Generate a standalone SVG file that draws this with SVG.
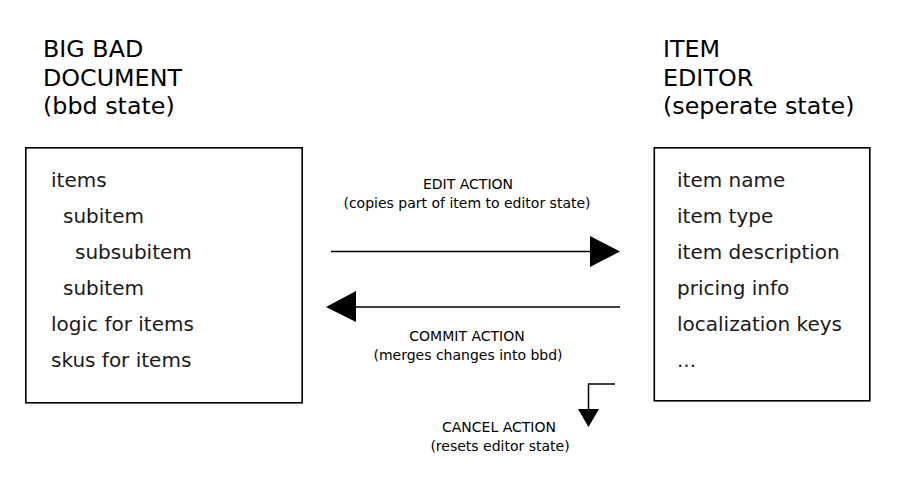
<svg xmlns="http://www.w3.org/2000/svg" width="897" height="487" viewBox="0 0 897 487">
<style>
.bg{fill:#fff}
.box{fill:#fff;stroke:#000;stroke-width:1.6}
.hdr{font-family:"DejaVu Sans","Liberation Sans",sans-serif;font-size:23.8px;fill:#000}
.itm{font-family:"DejaVu Sans","Liberation Sans",sans-serif;font-size:20px;fill:#1a1a1a}
.lbl{font-family:"DejaVu Sans","Liberation Sans",sans-serif;font-size:14px;fill:#000;text-anchor:middle}
.ln{fill:none;stroke:#000;stroke-width:1.5}
.ah{fill:#000}
</style>
<rect class="bg" width="897" height="487"/>
<g id="node-bbd">
<text class="hdr" x="43" y="57">BIG BAD</text>
<text class="hdr" x="43" y="86">DOCUMENT</text>
<text class="hdr" x="43" y="114">(bbd state)</text>
<rect class="box" x="25.8" y="147.8" width="276.4" height="255"/>
<text class="itm" x="51" y="187">items</text>
<text class="itm" x="63" y="223">subitem</text>
<text class="itm" x="75" y="259">subsubitem</text>
<text class="itm" x="63" y="295">subitem</text>
<text class="itm" x="51" y="331">logic for items</text>
<text class="itm" x="51" y="367">skus for items</text>
</g>
<g id="node-editor">
<text class="hdr" x="663" y="57">ITEM</text>
<text class="hdr" x="663" y="86">EDITOR</text>
<text class="hdr" x="663" y="114">(seperate state)</text>
<rect class="box" x="654.3" y="147.8" width="215.5" height="253"/>
<text class="itm" x="677" y="187">item name</text>
<text class="itm" x="677" y="223">item type</text>
<text class="itm" x="677" y="259">item description</text>
<text class="itm" x="677" y="295">pricing info</text>
<text class="itm" x="677" y="331">localization keys</text>
<text class="itm" x="677" y="367">...</text>
</g>
<g id="connectors">
<g id="edit-action">
<line class="ln" x1="331" y1="251.5" x2="592" y2="251.5"/>
<polygon class="ah" points="590,236 620,251.5 590,267"/>
<text class="lbl" x="468" y="189">EDIT ACTION</text>
<text class="lbl" x="467" y="208">(copies part of item to editor state)</text>
</g>
<g id="commit-action">
<line class="ln" x1="620" y1="307" x2="354" y2="307"/>
<polygon class="ah" points="356,291 326,307 356,322"/>
<text class="lbl" x="467" y="341">COMMIT ACTION</text>
<text class="lbl" x="468" y="360">(merges changes into bbd)</text>
</g>
<g id="cancel-action">
<polyline class="ln" points="615,384 588.5,384 588.5,411"/>
<polygon class="ah" points="578,409 599,409 588.5,427"/>
<text class="lbl" x="499" y="432">CANCEL ACTION</text>
<text class="lbl" x="500" y="451">(resets editor state)</text>
</g>
</g>
</svg>
